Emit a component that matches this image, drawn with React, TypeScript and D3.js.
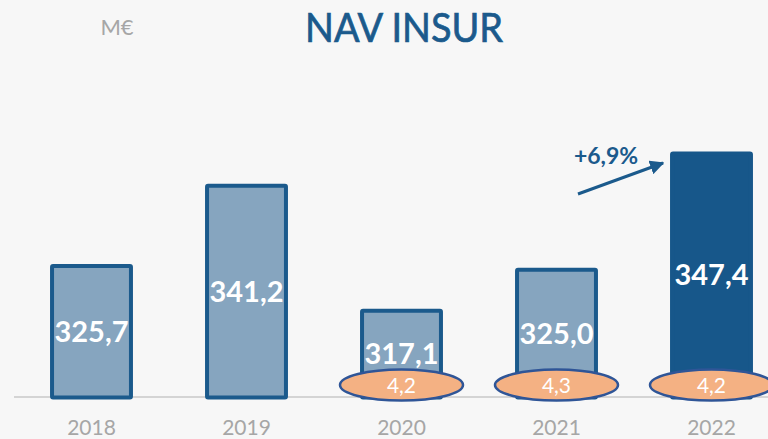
import React from 'react'
import * as d3 from 'd3'

const years = ['2018', '2019', '2020', '2021', '2022']
const nav = [325.7, 341.2, 317.1, 325.0, 347.4]
const navLabels = ['325,7', '341,2', '317,1', '325,0', '347,4']
const bubbleYears = ['2020', '2021', '2022']
const bubbleLabels = ['4,2', '4,3', '4,2']
const growthLabel = '+6,9%'

const W = 768
const H = 439
const FONT = 'Lato, "Open Sans", sans-serif'

const App = () => {
  const x = d3.scaleBand<string>()
    .domain(years)
    .range([14, 789])
    .paddingInner(0.465)
    .paddingOuter(0.2325)

  const y = d3.scaleLinear().domain([300, 350]).range([397.5, 138])
  const base = y(300)
  const bw = x.bandwidth()

  const last = years[years.length - 1]
  const arrowEnd: [number, number] = [x(last)! - 7, 163]
  const arrowStart: [number, number] = [578, 194]

  return (
    <svg width={W} height={H} style={{ position: 'absolute', left: 0, top: 0 }}>
      <defs>
        <marker id="head" viewBox="0 0 10 10" refX="9" refY="5" markerWidth="4.8" markerHeight="4.8" orient="auto">
          <path d="M0,0 L10,5 L0,10 z" fill="#1b5a8c" />
        </marker>
      </defs>
      <rect width={W} height={H} fill="#f7f7f7" />

      <text x={117} y={35} textAnchor="middle" fontFamily={FONT} fontSize={22} fill="#a6a6a6">M€</text>
      <text
        x={404}
        y={42}
        textAnchor="middle"
        fontFamily={FONT}
        fontSize={40}
        fill="#1b5a8c"
        stroke="#1b5a8c"
        strokeWidth={0.7}
        textLength={198}
        lengthAdjust="spacingAndGlyphs"
      >NAV INSUR</text>

      <line x1={14} x2={W} y1={397} y2={397} stroke="#d4d4d4" strokeWidth={2} />

      {years.map((yr, i) => {
        const isLast = i === years.length - 1
        const top = y(nav[i])
        return (
          <g key={yr}>
            <rect
              x={x(yr)! + 2}
              y={top + 2}
              width={bw - 4}
              height={base - top - 2}
              rx={1}
              fill={isLast ? '#17578a' : '#86a5bf'}
              stroke={isLast ? '#17578a' : '#1b5a8c'}
              strokeWidth={4}
            />
            <text
              x={x(yr)! + bw / 2}
              y={(top + base) / 2 + 11}
              textAnchor="middle"
              fontFamily={FONT}
              fontWeight="bold"
              fontSize={29}
              fill="#ffffff"
            >{navLabels[i]}</text>
            <text
              x={x(yr)! + bw / 2}
              y={435}
              textAnchor="middle"
              fontFamily={FONT}
              fontSize={21}
              fill="#a6a6a6"
            >{yr}</text>
          </g>
        )
      })}

      {bubbleYears.map((yr, i) => (
        <g key={yr}>
          <ellipse cx={x(yr)! + bw / 2} cy={385} rx={61.5} ry={15.5} fill="#f4b183" stroke="#2f5597" strokeWidth={2.5} />
          <text x={x(yr)! + bw / 2} y={393} textAnchor="middle" fontFamily={FONT} fontSize={21} fill="#ffffff">{bubbleLabels[i]}</text>
        </g>
      ))}

      <path
        d={d3.line()([arrowStart, arrowEnd]) ?? ''}
        stroke="#1b5a8c"
        strokeWidth={3}
        fill="none"
        markerEnd="url(#head)"
      />
      <text x={606} y={164} textAnchor="middle" fontFamily={FONT} fontWeight="bold" fontSize={23} fill="#1b5a8c">{growthLabel}</text>
    </svg>
  )
}

export default App
